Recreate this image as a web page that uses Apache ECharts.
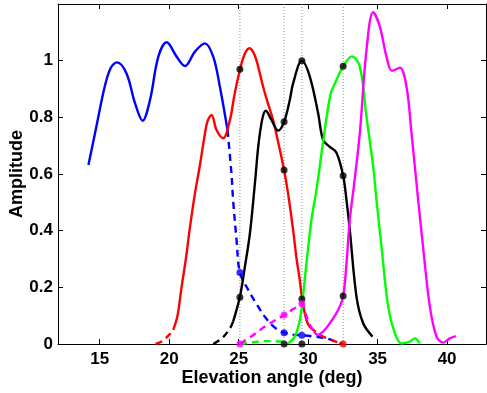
<!DOCTYPE html>
<html><head><meta charset="utf-8">
<script src="https://cdn.jsdelivr.net/npm/echarts@6/dist/echarts.min.js"></script>
<style>html,body{margin:0;padding:0;background:#fff}#c{width:487px;height:393px}</style>
</head><body><div id="c"></div>
<script>
const xTicks = [15, 20, 25, 30, 35, 40];
const yTicks = [0, 0.2, 0.4, 0.6, 0.8, 1];
const vLines = [25.09, 28.27, 29.55, 32.52];

const blueSolid = [[14.19,0.632],[14.76,0.767],[15.36,0.908],[15.8,0.975],[16.25,0.994],[16.93,0.955],[17.54,0.85],[18.09,0.788],[18.62,0.861],[19.22,1.014],[19.82,1.065],[20.54,1.014],[21.14,0.981],[21.86,1.032],[22.57,1.061],[23.17,1.014],[23.65,0.908],[24.2,0.755]];
const blueDash = [[24.2,0.755],[24.49,0.597],[24.6,0.508],[24.85,0.367],[25.09,0.252],[25.7,0.19],[26.3,0.14],[26.9,0.095],[27.5,0.062],[28.0,0.045],[28.27,0.04],[28.9,0.033],[29.55,0.031],[30.5,0.026],[31.32,0.02],[32.0,0.008],[32.5,0.0]];
const redDash1 = [[19.02,0],[19.5,0.01],[20.05,0.035],[20.29,0.05]];
const redSolid = [[20.29,0.05],[20.6,0.1],[20.89,0.2],[21.2,0.3],[21.49,0.41],[21.85,0.53],[22.21,0.63],[22.5,0.72],[22.75,0.785],[23.05,0.808],[23.41,0.755],[23.88,0.726],[24.37,0.79],[24.7,0.88],[25.09,0.967],[25.45,1.025],[25.78,1.044],[26.05,1.03],[26.29,1.0],[26.76,0.908],[27.1,0.85],[27.48,0.79],[27.9,0.70],[28.27,0.614],[28.56,0.53],[28.92,0.402],[29.17,0.3],[29.4,0.226],[29.55,0.165],[29.76,0.108],[29.95,0.075],[30.15,0.058]];
const redDash2 = [[30.15,0.058],[30.5,0.045],[31.08,0.026],[31.8,0.012],[32.52,0]];
const blackDash = [[23.17,0],[23.8,0.02],[24.37,0.055],[24.6,0.079]];
const blackSolid = [[24.6,0.079],[25.09,0.167],[25.45,0.273],[25.81,0.39],[26.17,0.567],[26.53,0.744],[26.96,0.823],[27.37,0.79],[27.84,0.753],[28.27,0.784],[28.68,0.861],[28.92,0.92],[29.55,1.0],[30.12,0.944],[30.72,0.814],[31.08,0.72],[31.56,0.696],[32.04,0.675],[32.52,0.594],[32.76,0.508],[33.0,0.402],[33.48,0.167],[33.96,0.073],[34.63,0.026]];
const greenDash = [[25.09,0],[26.0,0.006],[26.76,0.01],[27.5,0.01],[28.2,0.008],[28.56,0.002]];
const greenSolid = [[28.56,0.002],[29.04,0.026],[29.4,0.085],[29.6,0.155],[29.88,0.285],[30.24,0.438],[30.6,0.544],[31.08,0.714],[31.6,0.878],[32.04,0.932],[32.52,0.98],[33.15,1.015],[33.72,0.979],[34.2,0.802],[34.68,0.626],[34.92,0.508],[35.28,0.343],[35.76,0.132],[36.24,0.038],[36.72,0.002],[37.32,0.008],[37.68,0.02],[38.04,0.002]];
const magDash = [[25.09,0],[26.0,0.03],[27.0,0.065],[28.27,0.102],[29.0,0.125],[29.55,0.142],[29.8,0.11],[30.1,0.07],[30.4,0.045]];
const magSolid = [[30.4,0.045],[30.72,0.032],[31.1,0.045],[31.56,0.073],[32.16,0.12],[32.52,0.169],[32.76,0.285],[33.0,0.44],[33.3,0.56],[33.72,0.744],[34.2,1.038],[34.68,1.171],[35.16,1.12],[35.64,1.014],[36.04,0.964],[36.6,0.975],[37.08,0.908],[37.44,0.744],[37.92,0.508],[38.27,0.343],[38.76,0.132],[39.24,0.026],[39.72,0.005],[40.2,0.02],[40.64,0.028]];
const dotsBlack = [[25.09,0.97],[25.09,0.165],[28.27,0.784],[28.27,0.614],[28.27,0],[29.55,1.0],[29.55,0.159],[29.55,0],[32.52,0.98],[32.52,0.594],[32.52,0.169]];
const dotsBlue = [[25.09,0.252],[28.27,0.04],[29.55,0.031]];
const dotsMagenta = [[25.09,0],[28.27,0.102],[29.55,0.142]];
const dotsRed = [[32.52,0]];

const FONT = '"Liberation Sans", Arial, Helvetica, sans-serif';
const chart = echarts.init(document.getElementById('c'), null, {renderer: 'canvas'});

function line(data, color, dashed, z) {
  return {type: 'line', data: data, showSymbol: false, smooth: 0.35, z: z || 3,
    lineStyle: {color: color, width: 2.4, type: dashed ? [7, 5] : 'solid'},
    itemStyle: {color: color}, silent: true};
}
function dots(data, color) {
  return {type: 'scatter', data: data, symbol: 'circle', symbolSize: 7, z: 10,
    itemStyle: {color: color}, silent: true};
}
const series = [];
vLines.forEach(v => series.push({type: 'line', data: [[v, 0], [v, 1.2]], showSymbol: false, z: 1,
  lineStyle: {color: '#8a8a8a', width: 1, type: [1, 2]}, silent: true}));
series.push(line(blueSolid, '#0000ff', false), line(blueDash, '#0000ff', true),
  line(redDash1, '#ff0000', true), line(redSolid, '#ff0000', false), line(redDash2, '#ff0000', true),
  line(blackDash, '#000000', true), line(blackSolid, '#000000', false),
  line(greenDash, '#00ff00', true), line(greenSolid, '#00ff00', false),
  line(magDash, '#ff00ff', true), line(magSolid, '#ff00ff', false),
  dots(dotsBlack, '#000000'), dots(dotsBlue, '#0000ff'), dots(dotsMagenta, '#ff00ff'), dots(dotsRed, '#ff0000'));

const axisCommon = {
  axisLine: {show: true, onZero: false, lineStyle: {color: '#000', width: 1}},
  splitLine: {show: false}
};
chart.setOption({
  animation: false,
  backgroundColor: '#fff',
  grid: {left: 58, right: 1, top: 4, bottom: 49, containLabel: false, outerBoundsMode: 'none'},
  xAxis: [
    Object.assign({type: 'value', min: 12, max: 42.8, position: 'bottom',
      axisTick: {show: true, inside: true, length: 5, customValues: xTicks, lineStyle: {color: '#000'}},
      axisLabel: {show: true, customValues: xTicks, margin: 7, color: '#000', fontSize: 17, fontWeight: 'bold', fontFamily: FONT},
      name: 'Elevation angle (deg)', nameLocation: 'middle', nameGap: 25, nameMoveOverlap: false,
      nameTextStyle: {color: '#000', fontSize: 18, fontWeight: 'bold', fontFamily: FONT}}, axisCommon),
    Object.assign({type: 'value', min: 12, max: 42.8, position: 'top',
      axisTick: {show: true, inside: true, length: 5, customValues: xTicks, lineStyle: {color: '#000'}},
      axisLabel: {show: false}}, axisCommon)
  ],
  yAxis: [
    Object.assign({type: 'value', min: 0, max: 1.2, position: 'left',
      axisTick: {show: true, inside: true, length: 5, customValues: yTicks, lineStyle: {color: '#000'}},
      axisLabel: {show: true, customValues: yTicks, margin: 5, color: '#000', fontSize: 17, fontWeight: 'bold', fontFamily: FONT},
      name: 'Amplitude', nameLocation: 'middle', nameGap: 32, nameRotate: 90, nameMoveOverlap: false,
      nameTextStyle: {color: '#000', fontSize: 18, fontWeight: 'bold', fontFamily: FONT}}, axisCommon),
    Object.assign({type: 'value', min: 0, max: 1.2, position: 'right',
      axisTick: {show: true, inside: true, length: 5, customValues: yTicks, lineStyle: {color: '#000'}},
      axisLabel: {show: false}}, axisCommon)
  ],
  series: series
});
</script></body></html>
